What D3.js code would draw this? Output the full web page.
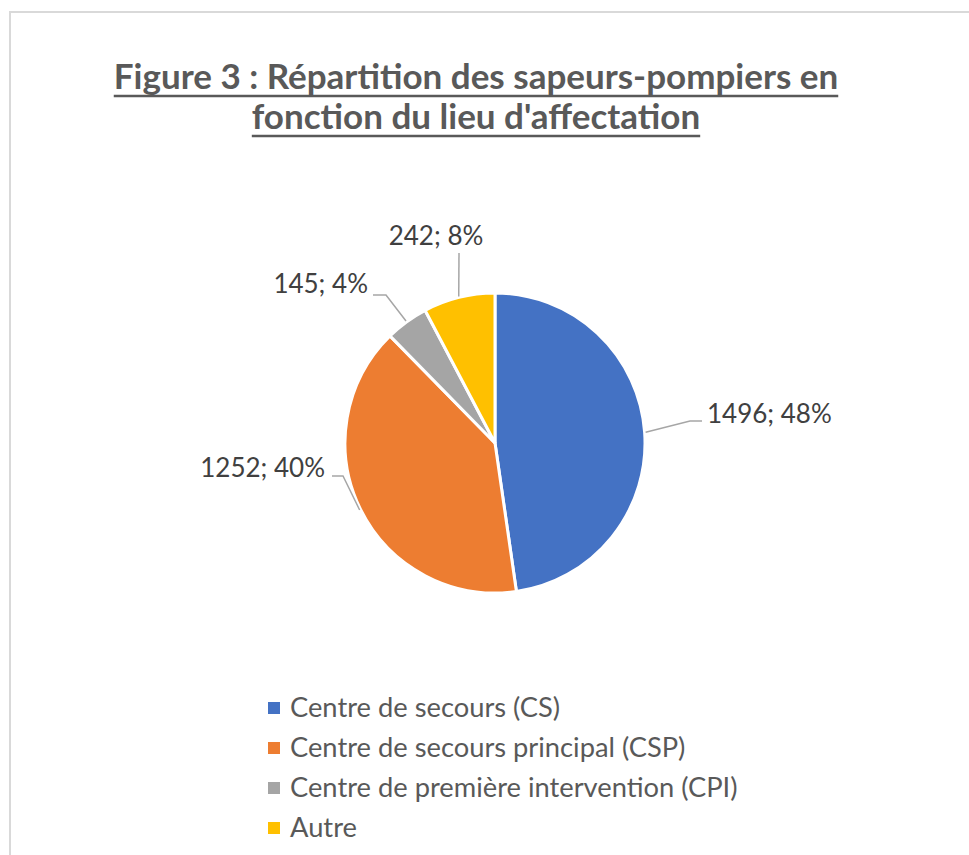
<!DOCTYPE html>
<html>
<head>
<meta charset="utf-8">
<script src="https://cdn.jsdelivr.net/npm/d3@7"></script>
<style>
  body { margin: 0; background: #fff; }
  svg { display: block; }
</style>
</head>
<body>
<script>
// data
var categories = ["Centre de secours (CS)", "Centre de secours principal (CSP)", "Centre de première intervention (CPI)", "Autre"];
var values = [1496, 1252, 145, 242];
var percents = ["48%", "40%", "4%", "8%"];
var titleLines = ["Figure 3 : Répartition des sapeurs-pompiers en", "fonction du lieu d'affectation"];

var colors = ["#4472C4", "#ED7D31", "#A5A5A5", "#FFC000"];

const width = 969, height = 855;
const cx = 495, cy = 443, radius = 150;

// leader line layout for each label, relative to the pie centre
// elbow = bend point, attach = where the leader meets the label
var labelLayout = [
  { elbow: [195, -22], attach: [207, -22], anchor: "start", dx: 5, dy: 2 },
  { elbow: [-152, 33], attach: [-163, 33], anchor: "end", dx: -7, dy: 1 },
  { elbow: [-109, -148], attach: [-122, -148], anchor: "end", dx: -5, dy: -2 },
  { elbow: [-36, -190], attach: [-36, -190], anchor: "middle", dx: -23, dy: -8 }
];

var svg = d3.select("body").append("svg")
  .attr("width", width)
  .attr("height", height);

svg.append("rect")
  .attr("x", 10).attr("y", 12)
  .attr("width", width + 20).attr("height", height + 20)
  .attr("fill", "#fff")
  .attr("stroke", "#d9d9d9")
  .attr("stroke-width", 2);

// title
var title = svg.append("g").attr("class", "title");
var titleY = [89, 129];
titleLines.forEach(function (line, i) {
  var t = title.append("text")
    .attr("x", 476)
    .attr("y", titleY[i])
    .attr("text-anchor", "middle")
    .attr("font-family", "Lato, sans-serif")
    .attr("font-weight", "bold")
    .attr("font-size", 35)
    .attr("fill", "#595959")
    .text(line);
  var bb = t.node().getBBox();
  title.append("line")
    .attr("x1", bb.x).attr("x2", bb.x + bb.width)
    .attr("y1", titleY[i] + 7).attr("y2", titleY[i] + 7)
    .attr("stroke", "#595959")
    .attr("stroke-width", 2.5);
});

// pie
var pie = d3.pie().sort(null).value(d => d);
var arcs = pie(values);
var arc = d3.arc().innerRadius(0).outerRadius(radius);

var g = svg.append("g").attr("transform", `translate(${cx}, ${cy})`);

g.selectAll("path.slice")
  .data(arcs)
  .enter()
  .append("path")
  .attr("class", "slice")
  .attr("d", arc)
  .attr("fill", (d, i) => colors[i])
  .attr("stroke", "#fff")
  .attr("stroke-width", 3);

// leader lines + labels
arcs.forEach(function (d, i) {
  var mid = (d.startAngle + d.endAngle) / 2;
  var edge = [Math.sin(mid) * (radius + 1), -Math.cos(mid) * (radius + 1)];
  var lay = labelLayout[i];
  g.append("polyline")
    .attr("points", [edge, lay.elbow, lay.attach].map(p => p.join(",")).join(" "))
    .attr("fill", "none")
    .attr("stroke", "#A6A6A6")
    .attr("stroke-width", 1.5);
  g.append("text")
    .attr("x", lay.attach[0] + lay.dx)
    .attr("y", lay.attach[1] + lay.dy)
    .attr("text-anchor", lay.anchor)
    .attr("font-family", "Lato, sans-serif")
    .attr("font-size", 26)
    .attr("fill", "#404040")
    .text(values[i] + "; " + percents[i]);
});

// legend
var legendY = d3.scaleBand()
  .domain(categories)
  .range([688, 848]);

var legend = svg.append("g").attr("class", "legend");
var items = legend.selectAll("g")
  .data(categories)
  .enter()
  .append("g")
  .attr("transform", d => `translate(268, ${legendY(d) + legendY.bandwidth() / 2})`);

items.append("rect")
  .attr("x", 0).attr("y", -6)
  .attr("width", 12).attr("height", 12)
  .attr("fill", (d, i) => colors[i]);

items.append("text")
  .attr("x", 22)
  .attr("y", 9)
  .attr("font-family", "Lato, sans-serif")
  .attr("font-size", 27.3)
  .attr("fill", "#595959")
  .text(d => d);
</script>
</body>
</html>
